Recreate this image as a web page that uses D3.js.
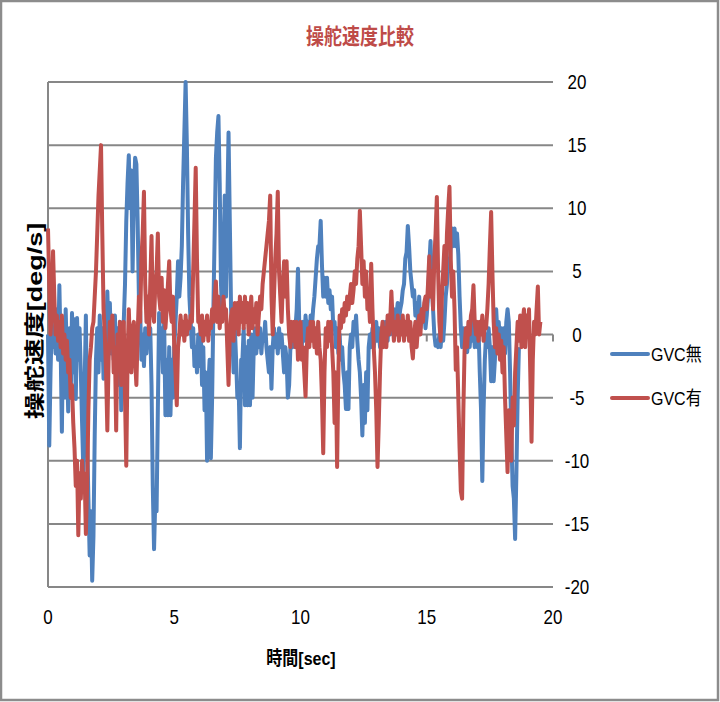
<!DOCTYPE html>
<html>
<head>
<meta charset="utf-8">
<title>操舵速度比較</title>
<style>
  body { margin: 0; background: #fff; }
  text { font-family: "Liberation Sans Narrow", "Liberation Sans", "Noto Sans CJK JP", sans-serif; }
</style>
<script src="https://cdnjs.cloudflare.com/ajax/libs/d3/7.8.5/d3.min.js"></script>
</head>
<body>
<div id="chart"></div>
<script>
// sampling step of both series [sec]
var dt = 0.05;

// GVC無 (blue), one row per second
var gvcOff = [
  0, -8.8, -3, 1, -1, 0.5, -1.5, 2, -2, 3.9, -1, -7.7, 1, -5, 2, -2, -6.1, 0.5, -5, 1.7,
  -3, 1.2, -5.1, 1.3, -2, 0.5, -3, -7, -10.8, -4, 1.5, -8, -13, -17.5, -14, -19.5, -16, -8, -2, 0.5,
  -3, 1.5, -2, 0.5, -3.5, 1, -1, 3.4, 0, 2.5, -1.5, 1, -2, 1.5, -2.5, 0.5, -4, 1, -6, 0,
  1, 4, 9, 12, 14.2, 10, 13, 5, 11, 14, 13.5, 9, 3, 1.8, -2, 0, -2.5, 0.5, -1.5, 0.5,
  -1, 0.5, -4, -12, -17, -13, -14, -6, 1.7, -1, 0.5, -3, 1, -6.4, -2, -6.4, -1, -6.4, -2, -5,
  -1, 1, 3, 5.8, 3, 4.5, 7, 12, 16, 20, 15, 8, 3, 1, -1, 0.5, -2.5, -1, -3, 0,
  -2.5, 0.5, -4, -1, -6, -3, -10, -4, -2, -9.8, -5, 2, 8, 14, 16, 17.3, 12, 4, 1.6, 6,
  11, 3, 10, 16, 9, 2, 0, -3, 0.5, -2, -5, -4, -9, -2, -2, 0.5, -5.6, -1, -5.6, -0.5,
  -5.6, 0, -5, -1, 0.5, -1.5, 0, -1, 0.5, -1.5, 0, -0.5, 1, -1, -2, -3, -1, -4.3, -1, 0.5,
  -1, 0, -1.5, 0.5, -1, 0, -1.5, -3, -1, -2, -5, -4, -1, 0.5, -1, 0, 0.5, 2, 5.2, 1,
  0, -1, 1, -0.5, 1.5, 0, 1, -0.5, 1.5, 0.5, 2, 3, 4.5, 6, 7, 7, 9, 5.5, 3, 4.5,
  3, 4.5, 2.5, 3.5, 2, 3, 0.5, 1, -1, 0.5, -1.5, 0, -2, -1, -3, -4, -5.9, -3, -5.9, -1,
  0, -1, 1, 0, 1.5, -0.5, -2, -3, -5, -8, -4, -7, -3, -6, -1, 0, -1, 0.5, -1, 0,
  1, -0.5, 0.5, -1, 0.5, -0.5, 1, 0, 1, -0.5, 1.5, 0, 1, 0.5, 2, 0.5, 1.5, 2.5, 1, 2,
  2.5, 3.5, 4, 6, 6.5, 8.6, 7, 5, 4, 3, 3.5, 1.5, 2.5, 1, 3, 0.5, 2, 1, 2, 0.5,
  1.5, 3, 5.5, 7.4, 4, 2, 0, -0.9, -0.5, -1, 0, -1, 0.5, -0.5, 1, 3, 4, 6, 5, 7,
  8.4, 7, 8.4, 7, 8, 6.3, 3, 0.5, -1, 0.5, -1, 0.5, -1.4, 0, -1, 0.5, -0.5, 1, -1, 0,
  -1, 0.5, -3, -6, -11.6, -6, -2, 0, -1, 0.5, -1, -3.7, -1, -3.7, -2, 2, 0, 1, -0.5, 0.5,
  -1, 0.5, -1.5, 1, 2, 1, -3, -8, -12, -13, -16.2, -11, -5, -1
];

// GVC有 (red), one row per second
var gvcOn = [
  8.4, 4, 0, 2, 6.6, 3, 0, 1.5, -0.5, 1, -1, 1.5, -1.5, 0, -2, -0.5, -3, -2, -5, -4,
  -7, -9, -12, -10, -15.9, -11, -13, -10, -12, -11, -15.8, -12, -6, -2, -1, 0.5, 1, 3, 5, 8,
  11, 13, 15, 8, 2, 0, -3, -7.6, -2, 1, -1, 1.5, -3, -1, -7.6, 0, -2, 1, -4, -1,
  1, -5, -10.4, -2, 2, -1, -3, 0.5, 1, -2, -4, 0, 3, 1, 6, 8, 11.3, 4, 1, 3,
  0, 4, 7.8, 2, 1, 4, 5, 8, 3, 2, 4.5, 1, 3.5, 0.5, 2, 4, 5.8, 2, 1, 3,
  -1, -3, -5.6, -1, 0, 1.5, 0, 1, -0.5, 1.5, 0, 1, 0.5, 1.5, 1, 5, 9, 13.2, 6, 1,
  1, 0, 1.5, -0.5, 1, 0, 1.5, -0.5, 1, 0.5, 2, 1, 3, 4.2, 1, 3, 0.5, 2, 1, 3,
  1.5, 2, -1, -4, 0, 1.5, 2, -0.5, 2.5, 0.5, 2.5, 0, 3, 1, 2.5, 0.5, 3, 1, 2.5, 0,
  1.5, 3, 0.5, 2, 1, 2.5, 0, 1.5, 3, 2, 4, 5, 6, 7, 8, 9, 11, 3, 0, 3,
  6, 8, 11.3, 5, 3, 1, 4, 5.8, 3, 5.8, 2, 0, -1, 1, -0.5, 1, -1, 1, -2, 0,
  1, -2, -1, -3, -4.9, -1, 0.5, -1, 1, -0.5, 1, -1, 0.5, -1.5, 1, -1, -2, -5, -9.4, -3,
  0.5, -1, 1, -0.5, 1, -1, -3, -7, -3, -10.5, -3, 1.5, 0.5, 2, 1, 2.5, 1.5, 3, 2, 3,
  4, 2.5, 3.5, 5, 4, 6, 7, 9.8, 7, 4, 5.8, 3, 5, 2, 3, 1, 5.6, 2, -1, -3,
  -6, -10.5, -7, -2.9, 0, 1, -1, 0.5, -1, 1.5, 0, 1, 3.4, 1, -0.5, 1, 0, 1.5, -0.5, 1,
  0, 1.5, -0.5, 1, 0, 1.5, -0.5, 1, -1, -1.9, 0, 1, -1, 0.5, 1.5, 0, 2, 1, 2.5, 3,
  2, 4, 6.2, 3, 5, 2, 6, 8, 10.9, 5, 1, -0.5, 3, 5, 7, 4, 8, 10, 11.7, 6,
  3, 5, 2, -2.8, -1, -5, -9, -12.4, -13, -6, -1, 0.5, -1, 1, 0, 1.5, 2, 3.9, 1, 0,
  1, -0.5, 1, 0, 1.5, -0.5, 1, 0.5, 2, 4, 7, 9.7, 5, 1, -1, 0.5, -1.5, 0, -2, -0.5,
  -3, -1, -5, -8, -10.9, -6, -9, -10, -5, -7.2, -3, -1, 1, -0.5, 1.5, -1, 1, 2, -1, 1.5,
  0, 2, -3, -8.5, -2, 1, 0, 2, 3.8, 0, 1
];

var seriesNames = ["GVC無", "GVC有"];
var seriesColors = ["#4F81BD", "#C0504D"];
var xTicks = [0, 5, 10, 15, 20];
var yTicks = [20, 15, 10, 5, 0, -5, -10, -15, -20];

var W = 720, H = 702;
var plotL = 48, plotR = 553, plotT = 82, plotB = 587;

var svg = d3.select("#chart").append("svg")
    .attr("width", W).attr("height", H);

svg.append("rect")
    .attr("x", 1).attr("y", 1).attr("width", W - 3).attr("height", H - 3)
    .attr("fill", "#fff").attr("stroke", "#8c8c8c").attr("stroke-width", 2.5);

var x = d3.scaleLinear().domain([0, 20]).range([plotL, plotR]);
var y = d3.scaleLinear().domain([-20, 20]).range([plotB, plotT]);

// stretched text, the picture is a bit taller than wide
function label(tx, ty, str, size, opts) {
    opts = opts || {};
    var sx = opts.sx || 1, sy = opts.sy || 1.2;
    var g = svg.append("g")
        .attr("transform", "translate(" + tx + "," + ty + ")" + (opts.rotate ? " rotate(-90)" : "") + " scale(" + sx + "," + sy + ")");
    return g.append("text")
        .attr("text-anchor", opts.anchor || "middle")
        .attr("dominant-baseline", "central")
        .attr("font-size", size)
        .attr("font-weight", opts.bold ? "bold" : null)
        .attr("fill", opts.fill || "#000")
        .text(str);
}

// gridlines
svg.append("g").selectAll("line").data(yTicks).enter().append("line")
    .attr("x1", plotL).attr("x2", plotR)
    .attr("y1", d => y(d)).attr("y2", d => y(d))
    .attr("stroke", "#878787").attr("stroke-width", 2);

// vertical axis line
svg.append("line")
    .attr("x1", plotL).attr("x2", plotL).attr("y1", plotT).attr("y2", plotB)
    .attr("stroke", "#878787").attr("stroke-width", 2);

// horizontal axis ticks at 0
svg.append("g").selectAll("line").data(xTicks).enter().append("line")
    .attr("x1", d => x(d)).attr("x2", d => x(d))
    .attr("y1", y(0)).attr("y2", y(0) + 7)
    .attr("stroke", "#878787").attr("stroke-width", 2);

// series
var line = d3.line()
    .x((d, i) => x(i * dt))
    .y(d => y(d));

[gvcOff, gvcOn].forEach(function (vals, k) {
    svg.append("path")
        .datum(vals)
        .attr("d", line)
        .attr("fill", "none")
        .attr("stroke", seriesColors[k])
        .attr("stroke-width", 4)
        .attr("stroke-linejoin", "round");
});

// tick labels
yTicks.forEach(function (v) { label(577, y(v), v, 17); });
xTicks.forEach(function (v) { label(x(v), 617, v, 17); });

// titles
label(360, 36, "操舵速度比較", 18, { bold: true, fill: "#BE4B48" });
label(301, 658, "時間[sec]", 16, { bold: true });
label(35, 321, "操舵速度[deg/s]", 20, { bold: true, rotate: true, sx: 1.35, sy: 1.0 });

// legend
seriesNames.forEach(function (name, k) {
    var ly = 354 + k * 44;
    svg.append("line")
        .attr("x1", 612).attr("x2", 648).attr("y1", ly).attr("y2", ly)
        .attr("stroke", seriesColors[k]).attr("stroke-width", 4).attr("stroke-linecap", "round");
    label(651, ly, name, 16, { anchor: "start" });
});
</script>
</body>
</html>
